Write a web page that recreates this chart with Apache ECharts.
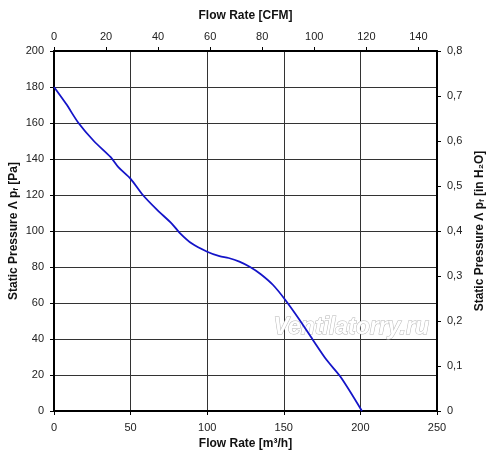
<!DOCTYPE html>
<html>
<head>
<meta charset="utf-8">
<script src="https://cdn.jsdelivr.net/npm/echarts@6/dist/echarts.min.js"></script>
<style>
  html, body { margin: 0; padding: 0; background: #fff; }
  #chart { width: 500px; height: 459px; }
</style>
</head>
<body>
<div id="chart"></div>
<script>
// fan curve: flow [m3/h] vs static pressure [Pa]
let flowM3h = [0, 8, 16, 26, 37, 42, 50, 58, 67, 77, 82, 90, 100, 108, 114, 121, 128, 135, 143, 151, 160, 169, 178, 187, 201]
let pressurePa = [180, 170.5, 160, 150, 141, 135.5, 129, 120, 112, 104, 99, 93, 88.5, 86, 85, 83, 80, 76, 70, 61.7, 51, 39.5, 28.3, 19, 0]

let font = '"Liberation Sans", Arial, sans-serif'
let axisCol = '#000'
let gridCol = '#333'

let myChart = echarts.init(document.getElementById('chart'))

let points = flowM3h.map((x, i) => [x, pressurePa[i]])

let tickStyle = {fontFamily: font, fontSize: 11, color: '#222'}
let nameStyle = {fontFamily: font, fontSize: 12, fontWeight: 'bold', color: '#111'}
let nameRich = {
    sub: {fontFamily: font, fontSize: 8, fontWeight: 'bold', color: '#111', verticalAlign: 'bottom', padding: [4, 0, 0, 0]}
}
let line = {onZero: false, lineStyle: {color: axisCol, width: 2}}
let tick = {show: true, inside: false, length: 4, lineStyle: {color: axisCol}}

myChart.setOption({
    animation: false,
    grid: {left: 54, right: 63, top: 51, bottom: 48, containLabel: false, outerBoundsMode: 'none'},
    xAxis: [
        {
            type: 'value', position: 'bottom', min: 0, max: 250, interval: 50,
            name: 'Flow Rate [m³/h]', nameLocation: 'middle', nameGap: 24,
            nameTextStyle: nameStyle,
            axisLine: line, axisTick: tick,
            axisLabel: Object.assign({margin: 11}, tickStyle),
            splitLine: {show: true, lineStyle: {color: gridCol, width: 1}}
        },
        {
            type: 'value', position: 'top', min: 0, max: 250 / 1.699, interval: 20,
            name: 'Flow Rate [CFM]', nameLocation: 'middle', nameGap: 29,
            nameTextStyle: nameStyle,
            axisLine: line, axisTick: tick,
            axisLabel: Object.assign({margin: 9, showMaxLabel: false}, tickStyle),
            splitLine: {show: false}
        }
    ],
    yAxis: [
        {
            type: 'value', position: 'left', min: 0, max: 200, interval: 20,
            name: 'Static Pressure Λ p{sub|f} [Pa]', nameLocation: 'middle', nameGap: 34,
            nameMoveOverlap: false,
            nameTextStyle: Object.assign({rich: nameRich}, nameStyle),
            axisLine: line, axisTick: tick,
            axisLabel: Object.assign({margin: 10}, tickStyle),
            splitLine: {show: true, lineStyle: {color: gridCol, width: 1}}
        },
        {
            type: 'value', position: 'right', min: 0, max: 0.8, interval: 0.1,
            name: 'Static Pressure Λ p{sub|f} [in H₂O]', nameLocation: 'middle', nameGap: 37,
            nameRotate: 90,
            nameTextStyle: Object.assign({rich: nameRich}, nameStyle),
            axisLine: line, axisTick: tick,
            axisLabel: Object.assign({
                margin: 10,
                formatter: v => String(+v.toFixed(1)).replace('.', ',')
            }, tickStyle),
            splitLine: {show: false}
        }
    ],
    graphic: [
        {
            type: 'text', left: 273, top: 316, z: 1, silent: true,
            style: {
                text: 'Ventilatorry.ru',
                font: 'italic bold 23px ' + font,
                fill: '#fff', stroke: '#b5b5b5', lineWidth: 1
            }
        }
    ],
    series: [
        {
            type: 'line', xAxisIndex: 0, yAxisIndex: 0,
            data: points, smooth: 0.3, showSymbol: false, z: 3,
            lineStyle: {color: '#1414c8', width: 1.8}
        }
    ]
})
</script>
</body>
</html>
